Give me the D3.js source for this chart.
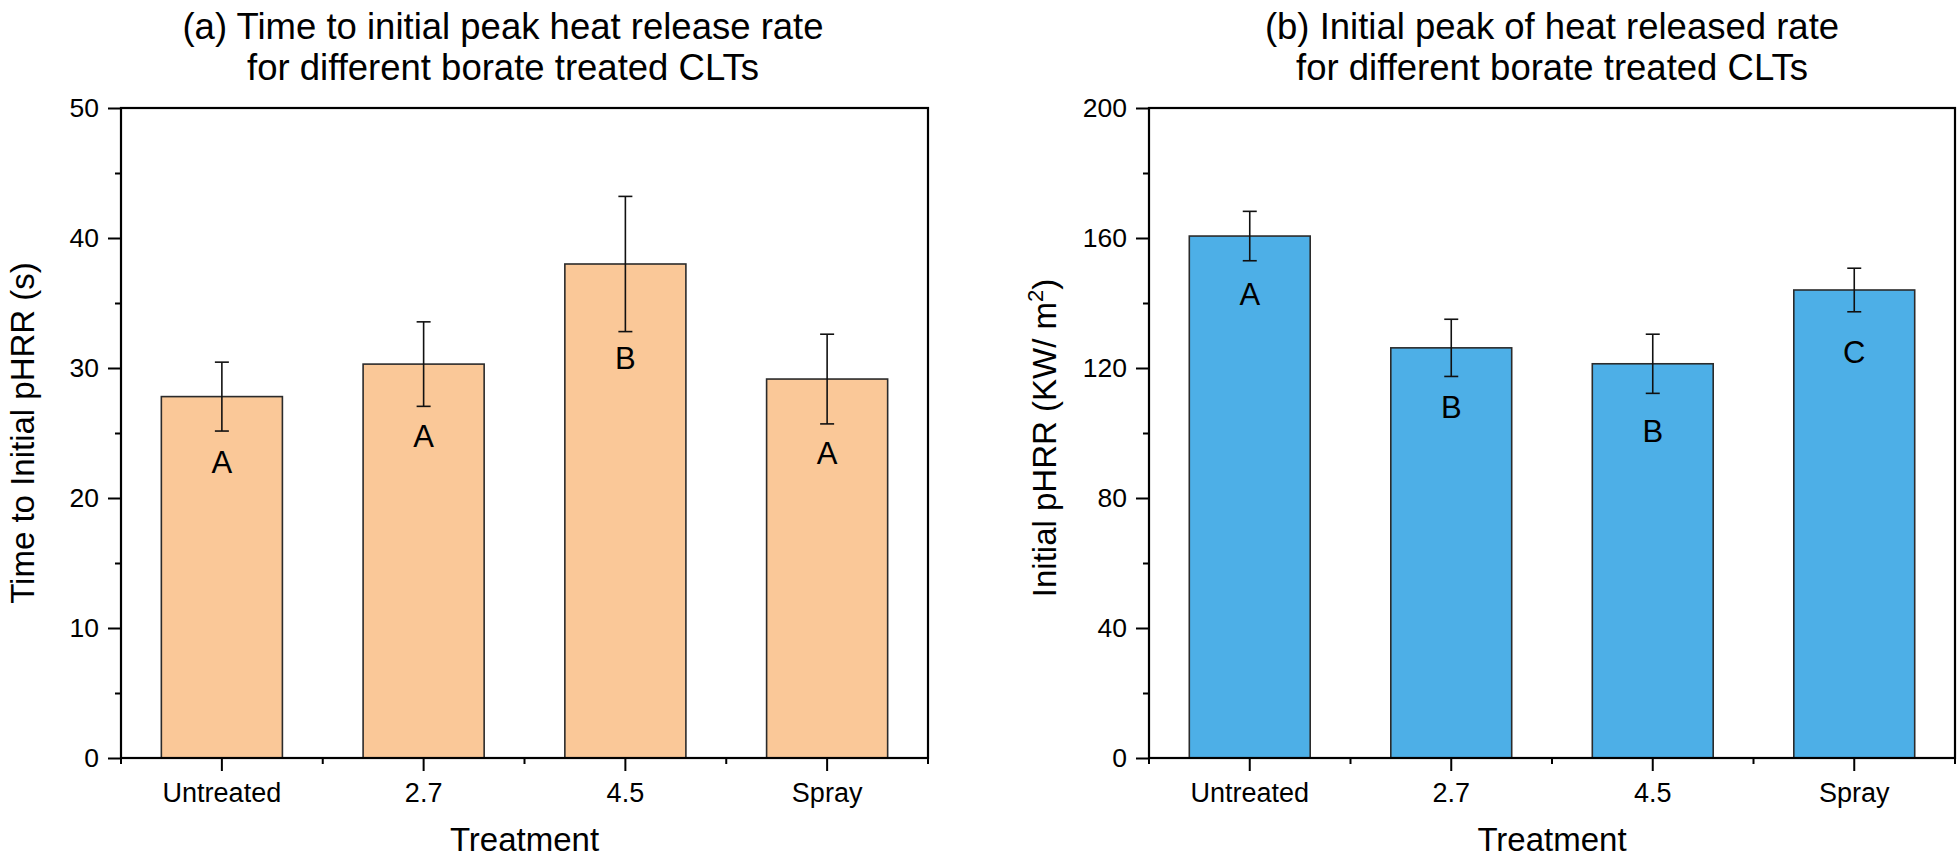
<!DOCTYPE html>
<html>
<head>
<meta charset="utf-8">
<script src="https://cdn.jsdelivr.net/npm/d3@7"></script>
<style>
  html, body { margin: 0; padding: 0; background: #fff; }
  svg { display: block; font-family: "Liberation Sans", Arial, sans-serif; }
</style>
</head>
<body>
<svg id="chart" width="1960" height="857"></svg>
<script>
// ---- Data ----
const categories = ["Untreated", "2.7", "4.5", "Spray"];

const timeMean = [27.8, 30.3, 38.0, 29.15];
const timeErr = [2.65, 3.25, 5.2, 3.45];
const timeLetters = ["A", "A", "B", "A"];
const timeLetterPos = [21.9, 23.9, 29.9, 22.6];
const timeTicks = [0, 10, 20, 30, 40, 50];
const timeMinorTicks = [5, 15, 25, 35, 45];

const hrrMean = [160.6, 126.2, 121.3, 144.0];
const hrrErr = [7.6, 8.8, 9.1, 6.7];
const hrrLetters = ["A", "B", "B", "C"];
const hrrLetterPos = [139.4, 104.6, 97.3, 121.4];
const hrrTicks = [0, 40, 80, 120, 160, 200];
const hrrMinorTicks = [20, 60, 100, 140, 180];

const svg = d3.select("#chart");

function panel(opts) {
  const { x0, x1, y0, y1, domainMax, mean, err, letters, letterPos, ticks, minorTicks,
          fill, titleLines, titleX, yLabel, yLabelX, yLabelY } = opts;
  const g = svg.append("g");

  const x = d3.scaleBand().domain(categories).range([x0, x1])
    .paddingInner(0.4).paddingOuter(0.2);
  const xStep = d3.scaleBand().domain(categories).range([x0, x1]).padding(0);
  const y = d3.scaleLinear().domain([0, domainMax]).range([y1, y0]);

  // bars
  g.selectAll("rect.bar").data(categories).join("rect")
    .attr("class", "bar")
    .attr("x", d => x(d))
    .attr("width", x.bandwidth())
    .attr("y", (d, i) => y(mean[i]))
    .attr("height", (d, i) => y(0) - y(mean[i]))
    .attr("fill", fill)
    .attr("stroke", "#2b2b2b")
    .attr("stroke-width", 1.6);

  // error bars
  const cap = 7;
  const eb = g.selectAll("g.err").data(categories).join("g").attr("class", "err")
    .attr("stroke", "#111").attr("stroke-width", 1.6);
  eb.append("line")
    .attr("x1", d => x(d) + x.bandwidth() / 2).attr("x2", d => x(d) + x.bandwidth() / 2)
    .attr("y1", (d, i) => y(mean[i] + err[i])).attr("y2", (d, i) => y(mean[i] - err[i]));
  eb.append("line")
    .attr("x1", d => x(d) + x.bandwidth() / 2 - cap).attr("x2", d => x(d) + x.bandwidth() / 2 + cap)
    .attr("y1", (d, i) => y(mean[i] + err[i])).attr("y2", (d, i) => y(mean[i] + err[i]));
  eb.append("line")
    .attr("x1", d => x(d) + x.bandwidth() / 2 - cap).attr("x2", d => x(d) + x.bandwidth() / 2 + cap)
    .attr("y1", (d, i) => y(mean[i] - err[i])).attr("y2", (d, i) => y(mean[i] - err[i]));

  // letters
  g.selectAll("text.letter").data(categories).join("text")
    .attr("class", "letter")
    .attr("x", d => x(d) + x.bandwidth() / 2)
    .attr("y", (d, i) => y(letterPos[i]))
    .attr("text-anchor", "middle")
    .attr("font-size", 31)
    .attr("fill", "#000")
    .text((d, i) => letters[i]);

  // y axis major
  const yAxis = d3.axisLeft(y).tickValues(ticks).tickSize(13).tickPadding(9).tickFormat(d3.format("d"));
  const ya = g.append("g").attr("transform", `translate(${x0},0)`).call(yAxis);
  ya.select(".domain").remove();
  ya.selectAll("line").attr("stroke", "#000").attr("stroke-width", 2);
  ya.selectAll("text").attr("font-size", 26.5).attr("fill", "#000")
    .attr("font-family", "'Liberation Sans', Arial, sans-serif");
  // y axis minor
  const yMinor = d3.axisLeft(y).tickValues(minorTicks).tickSize(6).tickFormat("");
  const ym = g.append("g").attr("transform", `translate(${x0},0)`).call(yMinor);
  ym.select(".domain").remove();
  ym.selectAll("line").attr("stroke", "#000").attr("stroke-width", 2);

  // x axis major at category centres
  const xAxis = d3.axisBottom(xStep).tickSize(13).tickPadding(12);
  const xa = g.append("g").attr("transform", `translate(0,${y1})`).call(xAxis);
  xa.select(".domain").remove();
  xa.selectAll("line").attr("stroke", "#000").attr("stroke-width", 2);
  xa.selectAll("text").attr("font-size", 27).attr("fill", "#000")
    .attr("font-family", "'Liberation Sans', Arial, sans-serif");
  // x axis minor at band boundaries
  const bounds = categories.map(c => xStep(c)).concat([x1]);
  g.append("g").selectAll("line").data(bounds).join("line")
    .attr("x1", d => d).attr("x2", d => d)
    .attr("y1", y1).attr("y2", y1 + 6)
    .attr("stroke", "#000").attr("stroke-width", 2);

  // frame
  g.append("rect").attr("x", x0).attr("y", y0)
    .attr("width", x1 - x0).attr("height", y1 - y0)
    .attr("fill", "none").attr("stroke", "#000").attr("stroke-width", 2.2);

  // x label
  g.append("text").attr("x", (x0 + x1) / 2).attr("y", 851)
    .attr("text-anchor", "middle").attr("font-size", 33).text("Treatment");

  // y label
  const yl = g.append("text")
    .attr("transform", `translate(${yLabelX},${yLabelY}) rotate(-90)`)
    .attr("text-anchor", "middle").attr("font-size", 33);
  yLabel(yl);

  // title
  titleLines.forEach((t, i) => {
    g.append("text").attr("x", titleX).attr("y", 39 + i * 41)
      .attr("text-anchor", "middle").attr("font-size", 36.5).text(t);
  });
}

panel({
  x0: 121, x1: 928, y0: 108, y1: 758, domainMax: 50,
  mean: timeMean, err: timeErr, letters: timeLetters, letterPos: timeLetterPos,
  ticks: timeTicks, minorTicks: timeMinorTicks, fill: "#FAC898",
  titleLines: ["(a) Time to initial peak heat release rate", "for different borate treated CLTs"],
  titleX: 503,
  yLabel: t => t.text("Time to Initial pHRR (s)"),
  yLabelX: 34, yLabelY: 433
});

panel({
  x0: 1149, x1: 1955, y0: 108, y1: 758, domainMax: 200,
  mean: hrrMean, err: hrrErr, letters: hrrLetters, letterPos: hrrLetterPos,
  ticks: hrrTicks, minorTicks: hrrMinorTicks, fill: "#4DAFE7",
  titleLines: ["(b) Initial peak of heat released rate", "for different borate treated CLTs"],
  titleX: 1552,
  yLabel: t => {
    t.append("tspan").text("Initial pHRR (KW/ m");
    t.append("tspan").attr("dy", -13).attr("font-size", 22).text("2");
    t.append("tspan").attr("dy", 13).text(")");
  },
  yLabelX: 1056, yLabelY: 438
});
</script>
</body>
</html>
